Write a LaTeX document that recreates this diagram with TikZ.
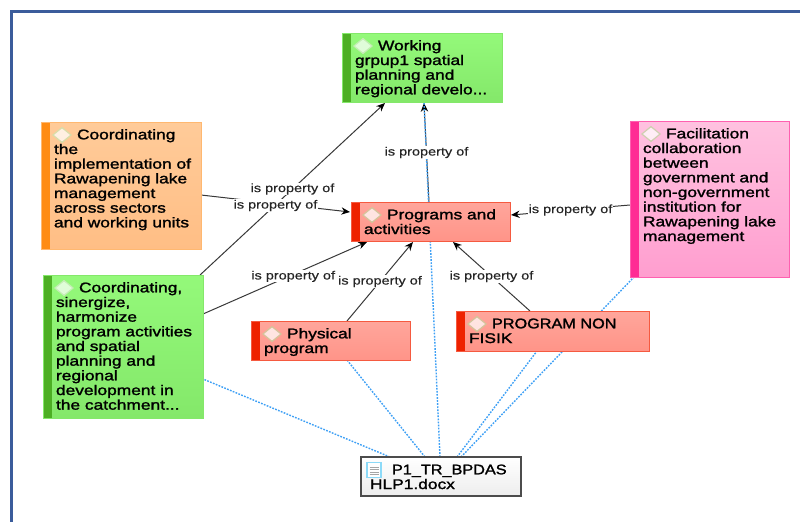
\documentclass[tikz,border=0pt]{standalone}
\usepackage{fontspec}
\usetikzlibrary{calc,shapes.geometric,arrows.meta}
\newfontfamily\cardfont[FakeStretch=1.24,FakeBold=1.6]{Liberation Sans}
\newfontfamily\capfont[FakeStretch=1.16,FakeBold=1.6]{Liberation Sans}
\newfontfamily\labfont[FakeStretch=1.22,FakeBold=0.3]{Liberation Sans}
\newlength\pxu \setlength\pxu{.75pt}
\definecolor{frameblue}{HTML}{3B5C9B}
\definecolor{linkblue}{HTML}{3EA0F5}
\definecolor{gtop}{HTML}{94F97A}\definecolor{gbot}{HTML}{84E86A}\definecolor{gstr}{HTML}{4DAF24}
\definecolor{otop}{HTML}{FFCB99}\definecolor{obot}{HTML}{FFBE85}\definecolor{oedg}{HTML}{FFB870}\definecolor{ostr}{HTML}{FF8C14}
\definecolor{rtop}{HTML}{FFA69C}\definecolor{rbot}{HTML}{FF9488}\definecolor{redg}{HTML}{F55A40}\definecolor{rstr}{HTML}{EE2200}
\definecolor{ptop}{HTML}{FFC2E0}\definecolor{pbot}{HTML}{FF9ECF}\definecolor{pedg}{HTML}{FF60B0}\definecolor{pstr}{HTML}{FF2C94}
\definecolor{gemg}{HTML}{C4EDB4}\definecolor{gemo}{HTML}{D8DDA8}\definecolor{gemr}{HTML}{D5C39A}\definecolor{gemp}{HTML}{CFCFB0}
\pgfdeclarelayer{background}
\pgfsetlayers{background,main}
\tikzset{
  card/.style n args={4}{draw=#3,line width=.6pt,top color=#1,bottom color=#2,anchor=north west,inner sep=0pt,outer sep=0pt,
    path picture={\fill[#4] (path picture bounding box.north west) rectangle ($(path picture bounding box.south west)+(9,0)$);}},
  greencard/.style={card={gtop}{gbot}{gbot}{gstr}},
  orangecard/.style={card={otop}{obot}{oedg}{ostr}},
  redcard/.style={card={rtop}{rbot}{redg}{rstr}},
  pinkcard/.style={card={ptop}{pbot}{pedg}{pstr}},
  doccard/.style={draw=black!70,line width=.9pt,top color=white,bottom color=black!7,anchor=north west,inner sep=0pt,outer sep=0pt},
  gem/.style={diamond,draw=#1,fill=white,fill opacity=.72,draw opacity=1,line width=.9pt,minimum width=14pt,minimum height=11.5pt,inner sep=0pt,aspect=1.2},
  arrowlink/.style={draw=black!78,line width=.75pt,-{Stealth[length=6.5pt,width=5.5pt,black]}},
  dotlink/.style={draw=linkblue,line width=1.05pt,dash pattern=on 1.3pt off 1pt},
  lbl/.style={fill=white,inner sep=.4pt,text=black!85,font=\labfont\fontsize{8.9}{10}\selectfont},
}
% name, x0, y0, width, height, style, gem colour, text
\newcommand{\cardnode}[8]{%
  \node[#6] (#1) at (#2,#3) {\parbox[c][#5\pxu][t]{#4\pxu}{\raggedright\leftskip=13\pxu\fontsize{10.5}{11}\cardfont\rule{0pt}{13pt}\hspace*{23\pxu}#8\par}};
  \node[gem=#7] (#1gem) at ($(#1.north west)+(21,13)$) {};
}
\begin{document}
\begin{tikzpicture}[x=.75pt,y=-.75pt]
\useasboundingbox (0,0) rectangle (800,522);
\coordinate (frameA) at (800,11.5);
\coordinate (frameB) at (11.5,11.5);
\coordinate (frameC) at (11.5,522);
\draw[frameblue,line width=2.2pt] (frameA) -- (frameB) -- (frameC);

\cardnode{wk}{342}{33}{160}{69}{greencard}{gemg}{Working\\grpup1 spatial\\planning and\\regional develo...}
\cardnode{co}{41}{122}{160}{127}{orangecard}{gemo}{Coordinating\\the\\implementation of\\Rawapening lake\\management\\across sectors\\and working units}
\cardnode{pr}{351}{202}{159}{39}{redcard}{gemr}{Programs and\\activities}
\cardnode{fa}{630}{121}{159}{156}{pinkcard}{gemp}{Facilitation\\collaboration\\between\\government and\\non-government\\institution for\\Rawapening lake\\management}
\cardnode{gr}{43}{275}{160}{143}{greencard}{gemg}{Coordinating,\\sinergize,\\harmonize\\program activities\\and spatial\\planning and\\regional\\development in\\the catchment...}
\cardnode{ph}{251}{321}{159}{39}{redcard}{gemr}{Physical\\program}
\cardnode{no}{456}{311}{193}{40}{redcard}{gemr}{{\capfont PROGRAM NON}\\FISIK}

\node[doccard] (dc) at (361,457) {\parbox[c][39\pxu][t]{160\pxu}{\raggedright\leftskip=9\pxu\fontsize{10.5}{11}\cardfont\rule{0pt}{13pt}\hspace*{22\pxu}{\capfont P1\_TR\_BPDAS}\\HLP1.docx\par}};
\node[draw=cyan!45,line width=.8pt,fill=white,minimum width=10.5pt,minimum height=11.5pt,inner sep=0pt] (dcicon) at ($(dc.north west)+(13,13)$) {};
\foreach \yy in {-3,-.5,2,4.5}{
  \draw[black!35,line width=.5pt] ($(dcicon.center)+(-4.5,\yy)$) -- ($(dcicon.center)+(4.5,\yy)$);
}

\begin{pgfonlayer}{background}
  \draw[arrowlink] ($(pr.north west)+(78,0)$) -- ($(wk.south west)+(82,1)$);
  \draw[dotlink] ($(dc.north west)+(29,0)$) -- ($(gr.south east)+(0,-39)$);
  \draw[dotlink] ($(dc.north west)+(64,0)$) -- ($(ph.south west)+(96,0)$);
  \draw[dotlink] ($(dc.north west)+(79,0)$) -- ($(wk.south west)+(82,0)$);
  \draw[dotlink] ($(dc.north west)+(96,0)$) -- ($(no.south west)+(81,0)$);
  \draw[dotlink] ($(dc.north west)+(100,0)$) -- ($(fa.south west)+(4,0)$);

  \path ($(pr.north west)+(78,0)$) -- node[lbl,pos=.5] (l4) {is property of} ($(wk.south west)+(82,1)$);
  \draw[arrowlink] ($(gr.north east)+(-3,0)$) -- node[lbl,pos=.5] (l1) {is property of} ($(wk.south west)+(43,1)$);
  \draw[arrowlink] ($(gr.north east)+(0,39)$) -- node[lbl,pos=.55,yshift=-1.5pt] (l2) {is property of} ($(pr.south west)+(16,1)$);
  \draw[arrowlink] ($(co.north east)+(0,73)$) -- node[lbl,pos=.5,yshift=-1.5pt] (l3) {is property of} ($(pr.north west)+(-1,10)$);
  \draw[arrowlink] ($(fa.north west)+(0,84)$) -- node[lbl,pos=.5] (l5) {is property of} ($(pr.north east)+(1,13)$);
  \draw[arrowlink] ($(ph.north west)+(96,0)$) -- node[lbl,pos=.5] (l6) {is property of} ($(pr.south west)+(62,1)$);
  \draw[arrowlink] ($(no.north west)+(74,0)$) -- node[lbl,pos=.5] (l7) {is property of} ($(pr.south west)+(102,1)$);
\end{pgfonlayer}
\end{tikzpicture}
\end{document}
